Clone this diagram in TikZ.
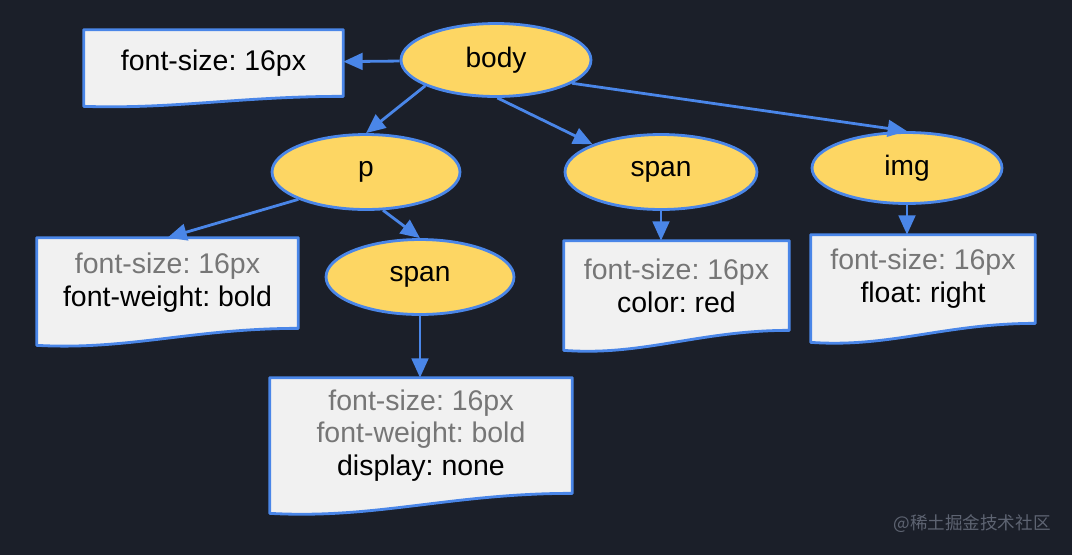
\documentclass[tikz,border=0pt]{standalone}
\usepackage{fontspec}
\setmainfont{Liberation Sans}
\newfontfamily\cjkfont{Noto Sans CJK SC}
\usetikzlibrary{arrows.meta,calc,shapes.geometric}
\definecolor{bgdark}{HTML}{1B1F29}
\definecolor{tagyellow}{HTML}{FDD663}
\definecolor{edgeblue}{HTML}{4A86E8}
\definecolor{boxgray}{HTML}{F1F1F1}
\definecolor{inhgray}{HTML}{767676}
\definecolor{markgray}{HTML}{5E6472}
\pgfdeclarelayer{back}
\pgfdeclarelayer{frames}
\pgfsetlayers{back,frames,main}
\frenchspacing
\tikzset{
	tag/.style={ellipse, draw=edgeblue, fill=tagyellow, line width=1.6pt, inner sep=0pt, font=\fontsize{16}{19}\selectfont},
	rules/.style={rectangle, inner sep=0pt, align=center, font=\fontsize{16.2}{18.7}\selectfont},
	edge/.style={draw=edgeblue, line width=1.6pt, -{Triangle[length=11pt,width=9.5pt]}},
	frame/.style={draw=edgeblue, fill=boxgray, line width=1.6pt, line join=round}
}
\newcommand{\inh}[1]{\textcolor{inhgray}{#1}}
% wavy-bottom frame behind a rules box, #2 = extra drop at the left corner (px)
\newcommand{\docframe}[2]{%
	\begin{pgfonlayer}{frames}
		\draw[frame] (#1.south east) -- (#1.north east) -- (#1.north west) -- ($(#1.south west)+(0,#2)$)
			.. controls ($(#1.south west)!0.35!(#1.south east)+(0,#2*1.3)$) and ($(#1.south west)!0.6!(#1.south east)$) .. (#1.south east) -- cycle;
	\end{pgfonlayer}}
\begin{document}
\begin{tikzpicture}[x=0.02cm, y=-0.02cm]
	% Background
	\begin{pgfonlayer}{back}
		\fill[bgdark] (0,0) rectangle (1072,555);
	\end{pgfonlayer}
	\useasboundingbox (0,0) rectangle (1072,555);
	
	% Element tree
	\node[tag, minimum width=3.8cm, minimum height=1.46cm] (body) at (496,60) {body};
	\node[tag, minimum width=3.76cm, minimum height=1.5cm] (p) at (366,172) {p};
	\node[tag, minimum width=3.84cm, minimum height=1.5cm] (span1) at (661,172) {span};
	\node[tag, minimum width=3.8cm, minimum height=1.42cm] (img) at (907,168) {img};
	\node[tag, minimum width=3.76cm, minimum height=1.5cm] (span2) at (420,277) {span};
	
	% Computed styles
	\node[rules, minimum width=5.18cm, minimum height=1.32cm] (boxbody) at (213.5,63) {font-size: 16px};
	\node[rules, minimum width=5.22cm, minimum height=1.8cm] (boxp) at (167.5,283) {\inh{font-size: 16px}\\font-weight: bold};
	\node[rules, minimum width=4.5cm, minimum height=1.78cm] (boxspan1) at (676.5,285.5) {\inh{font-size: 16px}\\color: red};
	\node[rules, minimum width=6.04cm, minimum height=2.3cm] (boxspan2) at (421,435.5) {\inh{font-size: 16px}\\\inh{font-weight: bold}\\display: none};
	\node[rules, minimum width=4.48cm, minimum height=1.76cm] (boximg) at (923,279) {\inh{font-size: 16px}\\float: right};
	\docframe{boxbody}{10}
	\docframe{boxp}{17}
	\docframe{boxspan1}{20}
	\docframe{boxspan2}{20}
	\docframe{boximg}{19}
	
	% Edges
	\draw[edge] (body) -- (boxbody);
	\draw[edge] (body.200) -- (p.north);
	\draw[edge] (body.-88) -- (span1.158);
	\draw[edge] (body.-17) -- (img.north);
	\draw[edge] (p.202) -- (boxp.north);
	\draw[edge] (p.-66) -- (span2.north);
	\draw[edge] (span1.south) -- (span1.south |- boxspan1.north);
	\draw[edge] (img.south) -- (img.south |- boximg.north);
	\draw[edge] (span2.south) -- (span2.south |- boxspan2.north);
	
	% Watermark
	\node[font=\cjkfont\fontsize{10}{12}\selectfont, text=markgray] (mark) at (972,524) {@稀土掘金技术社区};
\end{tikzpicture}
\end{document}
